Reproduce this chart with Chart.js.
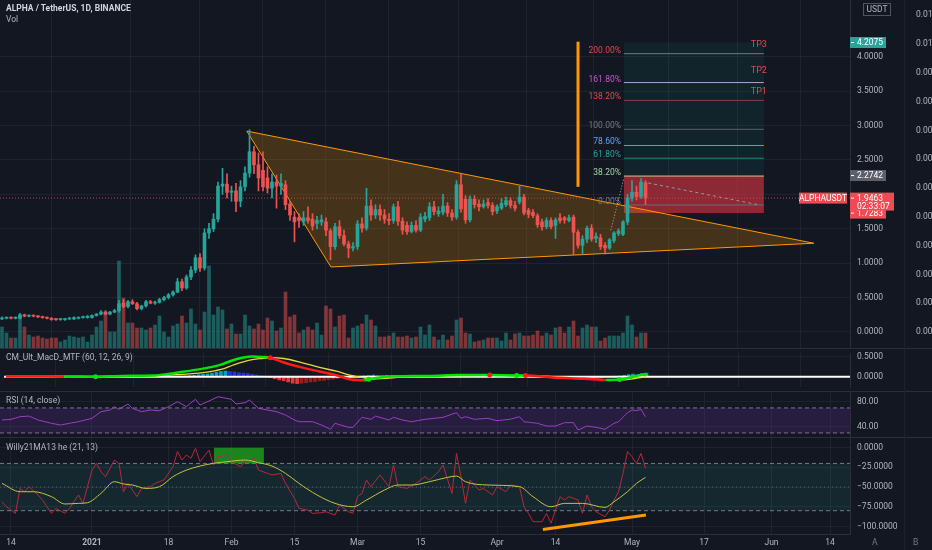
<!DOCTYPE html>
<html>
<head>
<meta charset="utf-8">
<title>ALPHA / TetherUS</title>
<script src="https://cdn.jsdelivr.net/npm/chart.js@4.4.1/dist/chart.umd.min.js"></script>
<style>
  html, body { margin: 0; padding: 0; background: #131722; }
  #board { position: relative; width: 932px; height: 550px; overflow: hidden; background: #131722; font-family: Roboto, "Liberation Sans", sans-serif; }
  #board canvas { position: absolute; left: 0; }
  .sep { position: absolute; left: 0; width: 932px; height: 1px; background: #2a2e39; }
  .vsep { position: absolute; top: 0; left: 904px; width: 1px; height: 550px; background: #1c2030; }
  .pane-title { position: absolute; left: 6px; font-size: 8.5px; line-height: 10px; color: #b2b5be; white-space: nowrap; }
  .main-title { color: #d1d4dc; font-weight: bold; }
  .corner { position: absolute; top: 537px; font-size: 8.5px; line-height: 10px; color: #787b86; }
</style>
</head>
<body>
<div id="board">
  <canvas id="mainChart" width="932" height="348" style="top:0px"></canvas>
  <canvas id="macdChart" width="932" height="42" style="top:349px"></canvas>
  <canvas id="rsiChart" width="932" height="45" style="top:392px"></canvas>
  <canvas id="willyChart" width="932" height="112" style="top:438px"></canvas>
  <div class="sep" style="top:348px"></div>
  <div class="sep" style="top:391px"></div>
  <div class="sep" style="top:437px"></div>
  <div class="vsep"></div>
  <div class="pane-title main-title" style="top:3px">ALPHA / TetherUS, 1D, BINANCE</div>
  <div class="pane-title" style="top:14px">Vol</div>
  <div class="pane-title" style="top:352px">CM_Ult_MacD_MTF (60, 12, 26, 9)</div>
  <div class="pane-title" style="top:395px">RSI (14, close)</div>
  <div class="pane-title" style="top:442px">Willy21MA13 he (21, 13)</div>
  <div class="corner" style="left:872px">A</div>
  <div class="corner" style="left:913px">B</div>
</div>
<script>
// ---- values, x = days since 1 Dec 2020 ----
const firstCandleDay = 11;

const candleOpen = [
  0.19, 0.20, 0.21, 0.20, 0.20, 0.25, 0.23, 0.24, 0.23, 0.22,
  0.21, 0.20, 0.19, 0.18, 0.18, 0.19, 0.19, 0.20, 0.21, 0.21,
  0.21, 0.24, 0.26, 0.29, 0.26, 0.29, 0.31, 0.42, 0.37, 0.44,
  0.41, 0.34, 0.38, 0.44, 0.42, 0.43, 0.47, 0.50, 0.54, 0.58,
  0.73, 0.64, 0.80, 0.90, 1.08, 0.93, 1.44, 1.50, 1.64, 2.12,
  2.15, 2.03, 2.05, 1.90, 2.11, 2.31, 2.62, 2.43, 2.35, 2.24,
  2.09, 2.18, 2.12, 2.14, 1.86, 1.67, 1.66, 1.60, 1.66, 1.64,
  1.58, 1.60, 1.60, 1.47, 1.24, 1.53, 1.40, 1.28, 1.22, 1.24,
  1.57, 1.51, 1.83, 1.70, 1.78, 1.70, 1.64, 1.62, 1.82, 1.61,
  1.55, 1.46, 1.55, 1.48, 1.64, 1.66, 1.82, 1.72, 1.74, 1.83,
  1.73, 1.67, 2.14, 1.93, 1.63, 1.93, 1.86, 1.82, 1.88, 1.84,
  1.76, 1.80, 1.85, 1.91, 1.84, 1.89, 1.96, 1.77, 1.74, 1.69,
  1.60, 1.53, 1.62, 1.55, 1.66, 1.66, 1.62, 1.67, 1.45, 1.26,
  1.35, 1.51, 1.36, 1.37, 1.26, 1.22, 1.33, 1.43, 1.42, 1.60,
  1.95, 2.03, 1.97, 2.17
];
const candleHigh = [
  0.22, 0.22, 0.22, 0.22, 0.27, 0.26, 0.25, 0.25, 0.24, 0.23,
  0.22, 0.21, 0.20, 0.20, 0.20, 0.21, 0.22, 0.22, 0.23, 0.24,
  0.25, 0.27, 0.31, 0.31, 0.30, 0.33, 0.46, 0.47, 0.46, 0.47,
  0.43, 0.39, 0.46, 0.46, 0.45, 0.49, 0.52, 0.56, 0.60, 0.78,
  0.77, 0.83, 0.95, 1.12, 1.14, 1.50, 1.58, 1.72, 2.18, 2.38,
  2.30, 2.12, 2.16, 2.20, 2.40, 2.94, 2.70, 2.60, 2.62, 2.40,
  2.30, 2.28, 2.30, 2.20, 1.90, 1.75, 1.72, 1.75, 1.82, 1.72,
  1.68, 1.70, 1.66, 1.50, 1.58, 1.62, 1.48, 1.32, 1.30, 1.62,
  1.66, 2.09, 1.92, 1.85, 1.85, 1.78, 1.72, 1.86, 1.90, 1.66,
  1.60, 1.60, 1.62, 1.72, 1.74, 1.88, 1.90, 1.82, 2.00, 1.88,
  1.78, 2.20, 2.31, 1.98, 1.98, 1.98, 1.92, 1.92, 1.94, 1.88,
  1.85, 1.94, 1.96, 1.95, 1.90, 2.12, 2.00, 1.80, 1.78, 1.72,
  1.64, 1.66, 1.66, 1.66, 1.72, 1.68, 1.70, 1.70, 1.48, 1.40,
  1.54, 1.56, 1.44, 1.42, 1.30, 1.36, 1.46, 1.50, 1.62, 2.00,
  2.20, 2.12, 2.23, 2.20
];
const candleLow = [
  0.18, 0.19, 0.19, 0.19, 0.19, 0.22, 0.22, 0.22, 0.21, 0.20,
  0.19, 0.17, 0.17, 0.17, 0.17, 0.18, 0.18, 0.19, 0.20, 0.20,
  0.20, 0.23, 0.25, 0.25, 0.25, 0.28, 0.29, 0.35, 0.35, 0.40,
  0.32, 0.32, 0.36, 0.41, 0.40, 0.42, 0.45, 0.48, 0.52, 0.57,
  0.60, 0.62, 0.76, 0.86, 0.88, 0.90, 1.36, 1.46, 1.60, 2.00,
  1.95, 1.90, 1.75, 1.82, 2.05, 2.25, 2.30, 2.05, 2.05, 2.02,
  1.95, 1.80, 2.00, 1.78, 1.62, 1.31, 1.52, 1.55, 1.58, 1.48,
  1.50, 1.55, 1.40, 1.05, 1.20, 1.36, 1.25, 1.08, 1.18, 1.20,
  1.45, 1.48, 1.62, 1.65, 1.62, 1.58, 1.56, 1.58, 1.55, 1.42,
  1.42, 1.44, 1.45, 1.46, 1.60, 1.62, 1.70, 1.68, 1.70, 1.68,
  1.62, 1.64, 1.74, 1.58, 1.60, 1.80, 1.76, 1.80, 1.80, 1.70,
  1.72, 1.78, 1.82, 1.80, 1.76, 1.86, 1.70, 1.66, 1.66, 1.52,
  1.48, 1.50, 1.50, 1.36, 1.58, 1.58, 1.60, 1.12, 1.22, 1.12,
  1.30, 1.32, 1.30, 1.20, 1.13, 1.20, 1.30, 1.40, 1.40, 1.56,
  1.90, 1.92, 1.94, 1.85
];
const candleClose = [
  0.20, 0.21, 0.20, 0.21, 0.25, 0.23, 0.24, 0.23, 0.22, 0.21,
  0.20, 0.18, 0.18, 0.19, 0.19, 0.20, 0.21, 0.21, 0.22, 0.23,
  0.24, 0.26, 0.29, 0.26, 0.29, 0.31, 0.41, 0.37, 0.44, 0.41,
  0.34, 0.38, 0.44, 0.42, 0.43, 0.47, 0.50, 0.54, 0.58, 0.73,
  0.64, 0.80, 0.90, 1.08, 0.93, 1.44, 1.50, 1.64, 2.12, 2.15,
  2.03, 2.05, 1.90, 2.11, 2.31, 2.62, 2.43, 2.24, 2.11, 2.09,
  2.18, 2.12, 2.16, 1.85, 1.70, 1.60, 1.62, 1.66, 1.62, 1.54,
  1.62, 1.63, 1.48, 1.24, 1.53, 1.40, 1.28, 1.22, 1.24, 1.57,
  1.51, 1.83, 1.70, 1.78, 1.70, 1.64, 1.62, 1.82, 1.61, 1.48,
  1.46, 1.55, 1.48, 1.67, 1.68, 1.82, 1.75, 1.76, 1.83, 1.73,
  1.67, 2.14, 1.79, 1.63, 1.93, 1.85, 1.82, 1.86, 1.84, 1.75,
  1.82, 1.87, 1.91, 1.84, 1.80, 1.96, 1.73, 1.71, 1.69, 1.56,
  1.53, 1.62, 1.53, 1.63, 1.62, 1.63, 1.66, 1.45, 1.26, 1.35,
  1.51, 1.35, 1.39, 1.24, 1.22, 1.34, 1.44, 1.47, 1.60, 1.95,
  2.03, 1.97, 2.18, 1.9463
];
// volume, in the same units the hidden volume scale uses
const volume = [
  21, 15, 10, 10, 33, 21, 13, 11, 12, 10,
  9, 10, 10, 6, 8, 12, 11, 10, 11, 6,
  13, 21, 27, 36, 16, 16, 87, 50, 25, 25,
  20, 20, 18, 20, 23, 32, 16, 11, 22, 24,
  32, 25, 39, 24, 18, 36, 82, 33, 41, 38,
  19, 24, 14, 14, 33, 22, 19, 24, 18, 30,
  27, 17, 20, 56, 31, 33, 15, 18, 21, 18,
  25, 13, 42, 39, 21, 32, 33, 10, 20, 22,
  24, 33, 28, 22, 11, 11, 12, 15, 11, 11,
  12, 10, 11, 21, 13, 23, 11, 8, 13, 8,
  12, 28, 30, 15, 14, 6, 7, 8, 10, 10,
  10, 7, 15, 8, 14, 15, 12, 12, 13, 17,
  12, 15, 13, 20, 21, 15, 21, 27, 12, 20,
  23, 21, 21, 7, 10, 12, 12, 12, 15, 32,
  23, 11, 15, 15
];

// MACD pane
const macdDays = [11, 17, 24, 31, 37, 44, 49, 55, 59, 62, 66, 68, 70, 73, 77, 81, 85, 88, 91, 92, 96, 99, 106, 112, 114, 119, 125, 127, 133, 140, 145, 148, 151, 154];
const macdLine = [0.005, 0.005, 0.0, 0.0, 0.02, 0.03, 0.10, 0.20, 0.30, 0.42, 0.50, 0.49, 0.47, 0.35, 0.23, 0.13, 0.03, -0.07, -0.09, -0.06, 0.0, 0.01, 0.02, 0.04, 0.04, 0.04, 0.03, 0.03, -0.02, -0.05, -0.08, -0.07, 0.0, 0.07];
const macdSignal = [0.01, 0.01, 0.01, 0.0, 0.01, 0.02, 0.05, 0.10, 0.18, 0.30, 0.42, 0.45, 0.47, 0.45, 0.35, 0.23, 0.13, 0.03, -0.03, -0.06, -0.04, -0.01, 0.01, 0.03, 0.03, 0.04, 0.03, 0.03, 0.0, -0.04, -0.07, -0.08, -0.05, 0.0];
const macdHist = [
  0, 0, 0, 0, 0, 0, 0, 0, 0, 0,
  0, 0, 0, 0, 0, 0, 0, 0, 0, 0,
  0, 0, 0, 0, 0, 0, 0, 0, 0, 0,
  0, 0, 0, 0, 0, 0, 0, 0, 0.01, 0.015,
  0.02, 0.03, 0.04, 0.05, 0.06, 0.07, 0.09, 0.11, 0.13, 0.14,
  0.13, 0.12, 0.10, 0.09, 0.08, 0.06, 0.04, 0.02, 0.005, -0.02,
  -0.05, -0.08, -0.10, -0.13, -0.16, -0.17, -0.16, -0.15, -0.13, -0.12,
  -0.10, -0.09, -0.07, -0.06, -0.04, -0.03, -0.02, -0.01, 0, 0.01,
  0.02, 0.03, 0.04, 0.035, 0.03, 0.03, 0.025, 0.03, 0.02, 0.015,
  0.01, 0.01, 0.005, 0.01, 0.01, 0.015, 0.01, 0.01, 0.01, 0.005,
  0.005, 0.015, 0.01, 0.005, 0.01, 0.005, 0.005, 0.005, 0.005, 0,
  0, 0.005, 0.005, 0, 0, 0.005, -0.01, -0.015, -0.02, -0.02,
  -0.025, -0.02, -0.02, -0.02, -0.015, -0.015, -0.01, -0.02, -0.025, -0.02,
  -0.015, -0.015, -0.01, -0.015, -0.01, -0.005, 0.01, 0.02, 0.035, 0.05,
  0.065, 0.06, 0.08, 0.09
];
const crossDays = [31, 70, 92, 119, 125, 127, 148];
const crossValues = [0, 0.47, -0.06, 0.04, 0.03, 0.03, -0.07];
const crossBullish = [true, false, true, false, true, false, true];

// RSI pane
const rsiDays = [11, 13, 15, 17, 19, 22, 24, 26, 28, 31, 33, 35, 36, 37, 39, 40, 42, 44, 46, 48,
  50, 52, 53, 54, 55, 57, 59, 62, 63, 65, 66, 68, 70, 72, 74, 76, 77, 80, 82, 84,
  85, 88, 89, 91, 93, 94, 97, 98, 100, 102, 105, 107, 109, 112, 113, 114, 116, 119, 121, 124,
  126, 127, 130, 132, 134, 136, 138, 139, 141, 143, 145, 147, 148, 150, 151, 152, 153, 154];
const rsiValues = [50.7, 51.8, 56, 57, 50.7, 45.4, 42.7, 45.4, 48, 53.4, 64, 66.7, 72, 67.8, 76.3, 69.4, 64, 66.7, 65.6, 72,
  80, 72, 78.4, 83.8, 74.7, 81.1, 88, 83.8, 76.3, 78.4, 82.7, 69.4, 66.7, 64, 58.7, 50.7, 48, 48, 42.7, 35.8,
  45.4, 39, 39, 55, 51.8, 57, 50.7, 55, 50.7, 48, 51.8, 53.4, 55, 62.4, 53.4, 56, 51.8, 53.4, 49.6, 52,
  56, 48, 45.4, 41, 41, 46.4, 46.4, 34.7, 41, 39, 35.8, 45.4, 48, 62.4, 66.7, 65.6, 67.8, 56];

// Willy pane
const willyDays = [11, 12, 14, 15, 16, 17, 19, 20, 22, 23, 25, 26, 28, 29, 31, 32, 33, 34, 36, 37,
  38, 39, 40, 41, 42, 44, 45, 47, 48, 49, 50, 51, 52, 53, 54, 55, 57, 58, 59, 61,
  62, 64, 65, 67, 68, 70, 71, 73, 74, 76, 77, 79, 80, 82, 83, 85, 86, 88, 89, 90,
  91, 92, 93, 95, 97, 98, 99, 101, 103, 105, 106, 108, 109, 111, 112, 113, 114, 115, 117, 118,
  120, 121, 123, 124, 126, 127, 128, 129, 131, 132, 133, 135, 136, 137, 139, 140, 141, 142, 143, 145,
  146, 147, 148, 149, 150, 151, 152, 153, 154];
const willyValues = [-68.6, -75, -83.4, -51.7, -55.9, -49.5, -60, -66.5, -83.4, -77, -83.4, -77, -60, -70.7, -28.4, -19.9, -30.5, -36.8, -15.7, -20,
  -55.9, -45.3, -53.8, -62.2, -51.7, -49.5, -45.3, -41, -32.6, -24.1, -5, -15.7, -9.3, -13.5, -0.8, -17.8, -3, -22, -11.4, -9.3,
  -17.8, -24.1, -17.8, -13.5, -28.4, -32.6, -34.7, -32.6, -45.3, -64.4, -77, -79.2, -83.4, -82.6, -81.3, -85.5, -72.8, -81.3, -83.4, -62.2,
  -58, -41, -49.5, -34.7, -49.5, -22, -49.5, -51.7, -45.3, -36.8, -41, -30.5, -22, -58, -7.2, -36.8, -70.7, -41, -53.8, -51.7,
  -60, -49.5, -55.9, -47.4, -49.5, -75, -83.4, -94, -94, -83.4, -96, -62.2, -66.5, -62.2, -66.5, -83.4, -60, -75, -81.3, -87.7,
  -79.2, -66.5, -55.9, -32.6, -5, -11.4, -20, -7.2, -26.2];
const willyMaDays = [11, 15, 18, 22, 25, 28, 30, 33, 36, 38, 40, 43, 46, 49, 52, 55, 58, 61, 65, 68,
  71, 74, 77, 81, 85, 89, 92, 96, 99, 102, 106, 110, 112, 114, 119, 126, 129, 133, 136, 140,
  145, 147, 150, 152, 154];
const willyMaValues = [-45.3, -55.9, -55.9, -62.2, -71.5, -70.7, -69.9, -58, -43.2, -46.1, -47.4, -51.7, -49.5, -36.8, -28.4, -23.3, -19.9, -17.8, -15.7, -19,
  -23.3, -32.6, -45.3, -60, -70.7, -75, -66.5, -53.8, -47.4, -47.4, -43.2, -37.7, -36, -43.2, -47.4, -49.5, -62.2, -75, -70.7, -70.7,
  -75.8, -68.6, -55.9, -45.3, -37.7];
const overboughtDays = [58.1, 69.2];
const overboughtRange = [0, -20];
const supportDays = [131.2, 154.1];
const supportValues = [-104, -85.5];

// drawings on the price pane
const triangleDays = [65.4, 84.1, 191.4, 65.4];
const trianglePrices = [2.92, 0.945, 1.29, 2.92];
const fibLabels = ['0.00%', '38.20%', '61.80%', '78.60%', '100.00%', '138.20%', '161.80%', '200.00%'];
const fibPrices = [1.846, 2.266, 2.526, 2.711, 2.946, 3.366, 3.626, 4.046];
const fibDays = [149.2, 180.3];
const targetLabels = ['TP1', 'TP2', 'TP3'];
const targetPrices = [3.49, 3.79, 4.17];
const markerDays = [139, 139];
const markerPrices = [2.11, 4.22];
const projectionDays = [154.6, 179.4];
const projectionPrices = [2.166, 1.846];
const swingDays = [146.3, 149.2];
const swingPrices = [1.48, 2.24];
const boxTop = 4.2075, entryTop = 2.2742, stopPrice = 1.7283, lastPrice = 1.9463;
const countdown = '02:33:07';

// axis ticks
const tickDays = [13, 31, 48, 62, 76, 90, 104, 121, 134, 151, 167, 182, 195];
const tickLabels = ['14', '2021', '18', 'Feb', '15', 'Mar', '15', 'Apr', '14', 'May', '17', 'Jun', '14'];
const priceTicks = [0, 0.5, 1, 1.5, 2, 2.5, 3, 3.5, 4];
const sideTicks = [0, 0.001, 0.002, 0.003, 0.004, 0.005, 0.006, 0.007, 0.008, 0.009, 0.01, 0.011];

// ---- look ----
const GRID = 'rgba(42, 46, 57, 0.55)';
const AXIS_LINE = '#2a2e39';
const TEXT = '#b2b5be';
const UP = '#26a69a';
const DOWN = '#ef5350';
const FONT = 'Roboto, "Liberation Sans", sans-serif';
const X_MIN = 10.56, X_MAX = 199.44;
const fibLineColors = ['#6b6e78', '#c9b98f', '#21877a', '#5b9cf6', '#5d606b', '#8e3a40', '#b39ddb', '#d5513e'];
const fibLabelColors = ['#787b86', '#a5d6a7', '#26a69a', '#64a5f6', '#787b86', '#e04a4a', '#c05bd0', '#e04a4a'];

Chart.defaults.font.family = FONT;
Chart.defaults.font.size = 8.5;
Chart.defaults.color = TEXT;

const pts = (xs, ys) => xs.map((x, i) => ({ x: x, y: ys[i] }));
const flat = v => pts([X_MIN, X_MAX], [v, v]);
const minus = v => (v < 0 ? '\u2212' : '') + Math.abs(v).toFixed(4);

function line(data, color, width, extra) {
    return Object.assign({
        type: 'line', data: data, borderColor: color, borderWidth: width,
        pointRadius: 0, fill: false, tension: 0
    }, extra || {});
}

function shape(xs, ys, fillColor, borderColor, width, order) {
    return line(pts(xs, ys), borderColor, width, { fill: 'shape', backgroundColor: fillColor, order: order });
}

function rect(x0, x1, y0, y1) {
    return { xs: [x0, x1, x1, x0, x0], ys: [y0, y0, y1, y1, y0] };
}

function xAxis(withLabels) {
    return {
        type: 'linear', min: X_MIN, max: X_MAX, offset: false,
        grid: { color: GRID, drawTicks: false },
        border: { display: withLabels, color: AXIS_LINE },
        afterBuildTicks: s => { s.ticks = tickDays.map(v => ({ value: v })); },
        ticks: {
            display: withLabels, autoSkip: false, maxRotation: 0, padding: 4, color: TEXT,
            font: c => ({ family: FONT, size: 8.5, weight: c.tick && c.tick.value === 31 ? 'bold' : 'normal' }),
            callback: v => tickLabels[tickDays.indexOf(v)]
        },
        afterFit: s => { s.height = withLabels ? 16 : 0; s.paddingLeft = 0; s.paddingRight = 0; }
    };
}

function sideAxis(min, max, ticks, fmt, width, extra) {
    return Object.assign({
        type: 'linear', axis: 'y', position: 'right', min: min, max: max,
        grid: { color: GRID, drawTicks: false },
        border: { color: AXIS_LINE },
        afterBuildTicks: s => { s.ticks = ticks.map(v => ({ value: v })); },
        ticks: { color: TEXT, padding: 7, callback: fmt },
        afterFit: s => { s.width = width; s.paddingTop = 0; s.paddingBottom = 0; }
    }, extra || {});
}

function baseOptions(scales) {
    return {
        responsive: false, animation: false, events: [],
        layout: { padding: 0 },
        plugins: { legend: { display: false }, tooltip: { enabled: false } },
        scales: scales
    };
}

// ---- price pane ----
const candleDays = candleClose.map((c, i) => firstCandleDay + i);
const candleColor = candleClose.map((c, i) => (c >= candleOpen[i] ? UP : DOWN));
const volumeColor = candleClose.map((c, i) => (c >= candleOpen[i] ? 'rgba(38,166,154,0.5)' : 'rgba(239,83,80,0.5)'));

function axisTag(ctx, left, y, width, bg, text) {
    ctx.fillStyle = bg;
    ctx.fillRect(left, y - 5.5, width, 11);
    ctx.fillStyle = '#ffffff';
    ctx.fillRect(left + 1, y - 0.5, 3, 1);
    ctx.fillText(text, left + 7, y + 0.5);
}

const priceOverlay = {
    id: 'priceOverlay',
    afterDatasetsDraw(chart) {
        const { ctx, scales: { x, y } } = chart;
        ctx.save();
        ctx.font = '8.5px ' + FONT;
        ctx.textAlign = 'right';
        ctx.textBaseline = 'alphabetic';
        const labelRight = x.getPixelForValue(fibDays[0]) - 3;
        fibPrices.forEach((p, i) => {
            ctx.fillStyle = fibLabelColors[i];
            ctx.fillText(fibLabels[i], labelRight, y.getPixelForValue(p) - 1);
        });
        ctx.font = '9px ' + FONT;
        ctx.textBaseline = 'middle';
        ctx.fillStyle = '#e04a4a';
        const tpRight = x.getPixelForValue(fibDays[1]) + 3;
        targetPrices.forEach((p, i) => ctx.fillText(targetLabels[i], tpRight, y.getPixelForValue(p)));
        ctx.restore();
    },
    afterDraw(chart) {
        const { ctx, chartArea, scales: { y } } = chart;
        const left = chartArea.right;
        ctx.save();
        ctx.font = '8.5px ' + FONT;
        ctx.textAlign = 'left';
        ctx.textBaseline = 'middle';
        axisTag(ctx, left, y.getPixelForValue(boxTop), 36, '#26a69a', boxTop.toFixed(4));
        axisTag(ctx, left, y.getPixelForValue(entryTop), 36, '#5d606b', entryTop.toFixed(4));
        axisTag(ctx, left, y.getPixelForValue(stopPrice), 36, '#f04b55', stopPrice.toFixed(4));

        // last price with the bar countdown under it
        const py = y.getPixelForValue(lastPrice);
        ctx.fillStyle = '#f04b55';
        ctx.fillRect(left, py - 5.5, 44, 18);
        ctx.fillStyle = '#ffffff';
        ctx.fillRect(left + 1, py - 0.5, 3, 1);
        ctx.fillText(lastPrice.toFixed(4), left + 7, py + 0.5);
        ctx.fillText(countdown, left + 7, py + 8.5);

        // symbol tag just left of the axis
        ctx.fillStyle = '#f04b55';
        ctx.fillRect(left - 51, py - 5.5, 48, 11);
        ctx.fillStyle = '#ffffff';
        ctx.textAlign = 'center';
        ctx.fillText('ALPHAUSDT', left - 27, py + 0.5);

        // currency unit box
        ctx.strokeStyle = '#50535e';
        ctx.lineWidth = 1;
        ctx.strokeRect(left + 13.5, 3.5, 27, 12);
        ctx.fillStyle = TEXT;
        ctx.fillText('USDT', left + 27, 10);
        ctx.restore();
    }
};

const tealBox = rect(fibDays[0], fibDays[1], entryTop, boxTop);
const redBox = rect(fibDays[0], fibDays[1], stopPrice, entryTop);

new Chart(document.getElementById('mainChart'), {
    type: 'bar',
    data: {
        datasets: [
            shape(tealBox.xs, tealBox.ys, 'rgba(8,153,129,0.1)', 'rgba(0,0,0,0)', 0, 30),
            shape(redBox.xs, redBox.ys, 'rgba(242,54,69,0.55)', 'rgba(0,0,0,0)', 0, 29),
            shape(triangleDays, trianglePrices, 'rgba(255,152,0,0.21)', '#ff9800', 1, 28),
            ...fibPrices.map((p, i) => line(pts(fibDays, [p, p]), fibLineColors[i], 1, { order: 25 })),
            {
                type: 'bar', yAxisID: 'vol', data: pts(candleDays, volume),
                backgroundColor: volumeColor, barThickness: 3, grouped: false, order: 20
            },
            line(flat(lastPrice), 'rgba(239,83,80,0.75)', 1, { borderDash: [1, 2], order: 15 }),
            {
                type: 'bar', data: candleDays.map((d, i) => ({ x: d, y: [candleLow[i], candleHigh[i]] })),
                backgroundColor: candleColor, barThickness: 1, grouped: false, order: 3
            },
            {
                type: 'bar', data: candleDays.map((d, i) => ({ x: d, y: [candleOpen[i], candleClose[i]] })),
                backgroundColor: candleColor, barThickness: 3, minBarLength: 1, grouped: false, order: 2
            },
            line(pts(markerDays, markerPrices), '#ff9800', 3, { order: 1 }),
            line(pts(projectionDays, projectionPrices), '#9598a1', 1, { borderDash: [3, 3], order: 1 }),
            line(pts(swingDays, swingPrices), '#b2b5be', 1, { borderDash: [1, 2], order: 1 })
        ]
    },
    options: baseOptions({
        x: xAxis(false),
        y: sideAxis(-0.2326, 4.8256, priceTicks, v => (v === 2 ? '' : v.toFixed(4)), 54, { weight: 1 }),
        y2: sideAxis(-0.000556, 0.011528, sideTicks, null, 28, {
            weight: 2,
            grid: { display: false },
            border: { display: false },
            ticks: { color: TEXT, padding: 4, callback: v => (Math.floor(v * 100 + 1e-6) / 100).toFixed(2) }
        }),
        vol: { type: 'linear', axis: 'y', display: false, min: 0, max: 348 }
    }),
    plugins: [priceOverlay]
});

// ---- MACD pane ----
const histColor = macdHist.map((v, i) => {
    const prev = i > 0 ? macdHist[i - 1] : 0;
    if (v > 0) return v >= prev ? 'rgba(0,188,212,0.85)' : '#2136d6';
    return v <= prev ? '#e53935' : '#9a1c1c';
});

new Chart(document.getElementById('macdChart'), {
    type: 'bar',
    data: {
        datasets: [
            {
                type: 'bar', data: pts(candleDays, macdHist), backgroundColor: histColor,
                barThickness: 3, grouped: false, order: 4
            },
            line(flat(0), '#ffffff', 2, { order: 3 }),
            line(pts(macdDays, macdSignal), '#e8d83a', 1.3, { tension: 0.4, cubicInterpolationMode: 'monotone', order: 2 }),
            line(pts(macdDays, macdLine), '#00e600', 2.5, {
                tension: 0.4, cubicInterpolationMode: 'monotone', order: 1,
                segment: { borderColor: c => (macdLine[c.p1DataIndex] >= macdSignal[c.p1DataIndex] ? '#00e600' : '#ff1a1a') }
            }),
            line(pts(crossDays, crossValues), 'rgba(0,0,0,0)', 0, {
                showLine: false, pointRadius: 2.5, pointBorderWidth: 0, order: 0,
                pointBackgroundColor: crossBullish.map(b => (b ? '#00e600' : '#ff1a1a'))
            })
        ]
    },
    options: baseOptions({
        x: xAxis(false),
        y: sideAxis(-0.254, 0.586, [0, 0.5], v => v.toFixed(4), 82)
    })
});

// ---- RSI pane ----
new Chart(document.getElementById('rsiChart'), {
    type: 'line',
    data: {
        datasets: [
            line(flat(70), '#787b86', 1, { borderDash: [4, 3], fill: '+1', backgroundColor: 'rgba(140,60,200,0.17)' }),
            line(flat(30), '#787b86', 1, { borderDash: [4, 3] }),
            line(pts(rsiDays, rsiValues), '#9c40c8', 1)
        ]
    },
    options: baseOptions({
        x: xAxis(false),
        y: sideAxis(23.5, 95.5, [40, 80], v => v.toFixed(2), 82)
    })
});

// ---- Willy pane ----
const greenBox = rect(overboughtDays[0], overboughtDays[1], overboughtRange[0], overboughtRange[1]);

new Chart(document.getElementById('willyChart'), {
    type: 'line',
    data: {
        datasets: [
            line(flat(-20), '#787b86', 1, { borderDash: [4, 3], fill: '+1', backgroundColor: 'rgba(38,166,154,0.12)', order: 10 }),
            line(flat(-80), '#787b86', 1, { borderDash: [4, 3], order: 9 }),
            line(flat(-50), '#5d606b', 1, { borderDash: [1, 3], order: 8 }),
            shape(greenBox.xs, greenBox.ys, 'rgba(30,160,30,0.8)', 'rgba(0,0,0,0)', 0, 7),
            line(pts(willyDays, willyValues), '#b8283a', 1, { order: 3 }),
            line(pts(willyMaDays, willyMaValues), '#c5c63a', 1, { tension: 0.4, cubicInterpolationMode: 'monotone', order: 2 }),
            line(pts(supportDays, supportValues), '#ff9800', 3, { order: 1 })
        ]
    },
    options: baseOptions({
        x: xAxis(true),
        y: sideAxis(-109.6, 12.3, [0, -25, -50, -75, -100], minus, 82)
    })
});
</script>
</body>
</html>
